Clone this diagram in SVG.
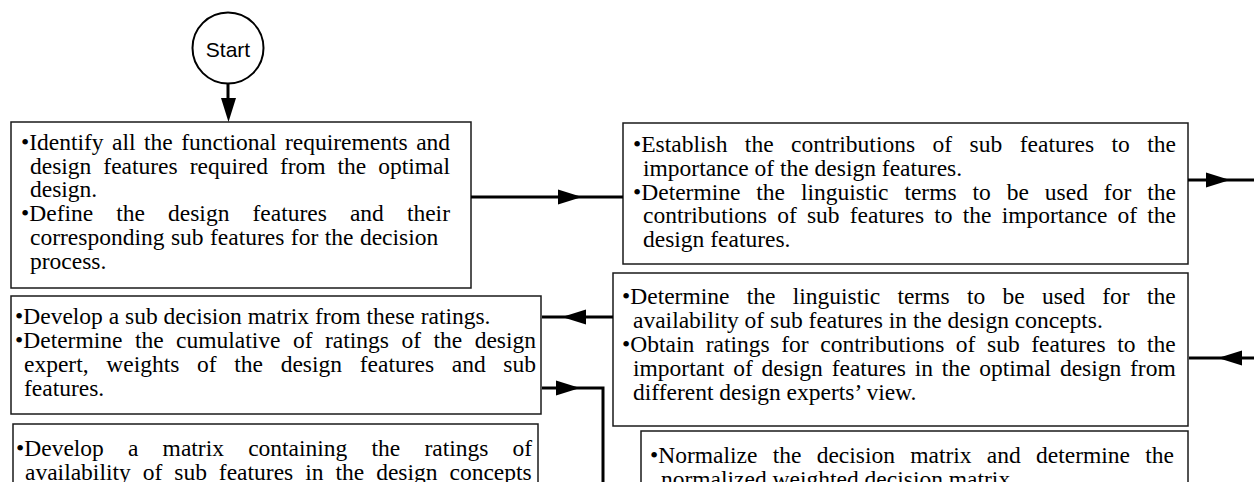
<svg xmlns="http://www.w3.org/2000/svg" width="1254" height="482" viewBox="0 0 1254 482">
<style>
.box{fill:#fff;stroke:#1a1a1a;stroke-width:1.5}
.t{font-family:"Liberation Serif","Times New Roman",serif;font-size:23.5px;fill:#000}
.c{fill:none;stroke:#000;stroke-width:3}
.ah{fill:#000}
.st{font-family:"Liberation Sans",Arial,sans-serif;font-size:21px;fill:#000}
</style>
<defs>
<path id="ahR" d="M0,0 L-24,-7.5 L-24,7.5 Z"/>
</defs>
<rect width="1254" height="482" fill="#fff"/>
<g id="start">
<circle cx="228" cy="48" r="35.5" fill="#fff" stroke="#000" stroke-width="2"/>
<text class="st" x="228" y="56.5" text-anchor="middle">Start</text>
</g>
<g id="box1">
<rect class="box" x="11" y="122" width="460" height="166"/>
<text class="t"><tspan x="21" y="150" word-spacing="2.6">•Identify all the functional requirements and</tspan><tspan x="30" y="174" word-spacing="6.1">design features required from the optimal</tspan><tspan x="30" y="197">design.</tspan><tspan x="21" y="221" word-spacing="17.2">•Define the design features and their</tspan><tspan x="30" y="245" word-spacing="0.6">corresponding sub features for the decision</tspan><tspan x="30" y="269">process.</tspan></text>
</g>
<g id="box2">
<rect class="box" x="623" y="123" width="565" height="141"/>
<text class="t"><tspan x="633" y="152" word-spacing="11.6">•Establish the contributions of sub features to the</tspan><tspan x="643" y="175.5">importance of the design features.</tspan><tspan x="633" y="199.5" word-spacing="10.06">•Determine the linguistic terms to be used for the</tspan><tspan x="643" y="223" word-spacing="4.3">contributions of sub features to the importance of the</tspan><tspan x="643" y="247">design features.</tspan></text>
</g>
<g id="box3">
<rect class="box" x="613" y="273" width="575" height="153"/>
<text class="t"><tspan x="622" y="304" word-spacing="11.4">•Determine the linguistic terms to be used for the</tspan><tspan x="633" y="328">availability of sub features in the design concepts.</tspan><tspan x="622" y="352" word-spacing="5.7">•Obtain ratings for contributions of sub features to the</tspan><tspan x="633" y="376" word-spacing="2.9">important of design features in the optimal design from</tspan><tspan x="633" y="400">different design experts’ view.</tspan></text>
</g>
<g id="box4">
<rect class="box" x="11" y="296" width="530" height="118"/>
<text class="t"><tspan x="15" y="324">•Develop a sub decision matrix from these ratings.</tspan><tspan x="15" y="348" word-spacing="6.6">•Determine the cumulative of ratings of the design</tspan><tspan x="24" y="372" word-spacing="11.8">expert, weights of the design features and sub</tspan><tspan x="24" y="396">features.</tspan></text>
</g>
<g id="box5">
<rect class="box" x="13" y="424" width="525" height="80"/>
<text class="t"><tspan x="16" y="456" word-spacing="18.3">•Develop a matrix containing the ratings of</tspan><tspan x="25" y="480" word-spacing="6.1">availability of sub features in the design concepts</tspan></text>
</g>
<g id="box6">
<rect class="box" x="641" y="431" width="547" height="80"/>
<text class="t"><tspan x="650" y="463" word-spacing="9.4">•Normalize the decision matrix and determine the</tspan><tspan x="661" y="487">normalized weighted decision matrix.</tspan></text>
</g>
<g id="connectors">
<line class="c" x1="228" y1="83" x2="228" y2="100"/>
<use href="#ahR" class="ah" transform="translate(228.5,122) rotate(90)"/>
<line class="c" x1="471" y1="197" x2="623" y2="197"/>
<use href="#ahR" class="ah" transform="translate(582,197)"/>
<line class="c" x1="1188" y1="180" x2="1254" y2="180"/>
<use href="#ahR" class="ah" transform="translate(1230,180)"/>
<line class="c" x1="1254" y1="358" x2="1189" y2="358"/>
<use href="#ahR" class="ah" transform="translate(1218,358) rotate(180)"/>
<line class="c" x1="613" y1="317" x2="542" y2="317"/>
<use href="#ahR" class="ah" transform="translate(562,317) rotate(180)"/>
<polyline class="c" points="542,388 603,388 603,482"/>
<use href="#ahR" class="ah" transform="translate(580,388)"/>
</g>
</svg>
